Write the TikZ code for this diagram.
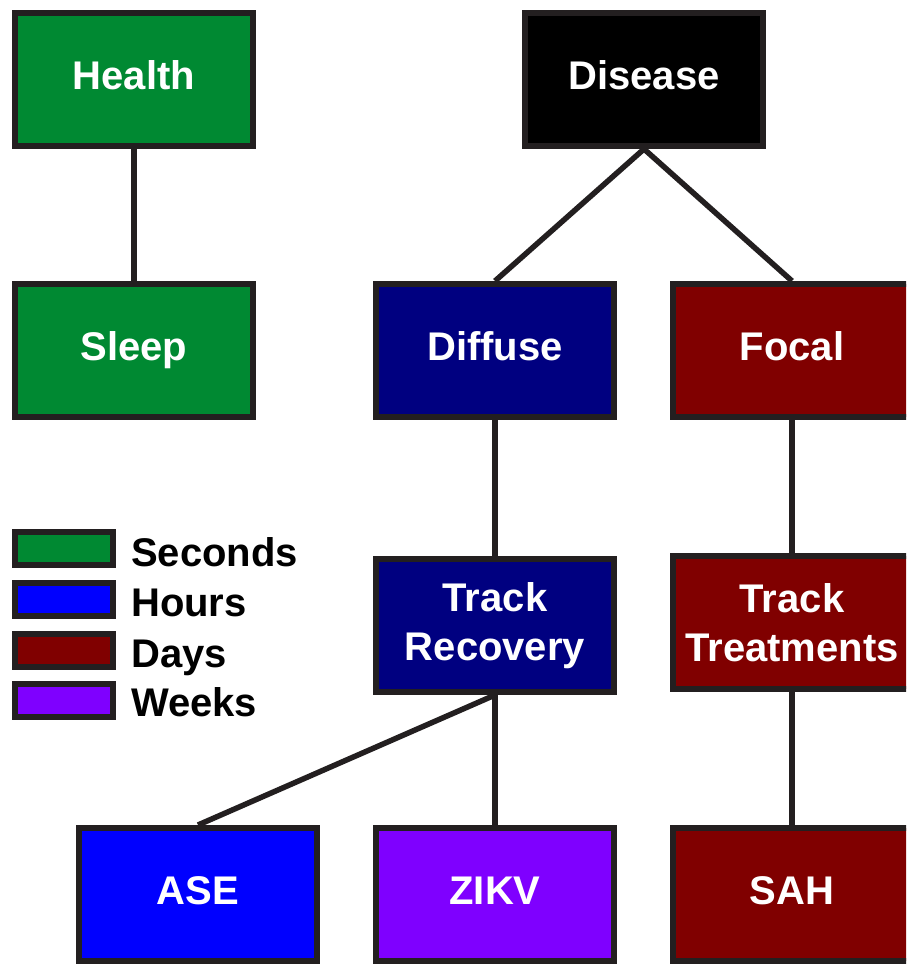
\documentclass[tikz,border=0pt]{standalone}
\usepackage{fontspec}
\setmainfont{Liberation Sans}
\definecolor{bord}{HTML}{231F20}
\definecolor{cgreen}{RGB}{0,137,50}
\definecolor{cnavy}{RGB}{0,0,128}
\definecolor{cred}{RGB}{128,0,0}
\definecolor{cblue}{RGB}{0,0,255}
\definecolor{cpurple}{RGB}{127,0,255}
\pgfdeclarelayer{back}
\pgfdeclarelayer{bg}
\pgfsetlayers{back,bg,main}
\begin{document}
\begin{tikzpicture}[x=1pt,y=-1pt,
  box/.style={draw=bord, line width=6pt, minimum width=238pt, minimum height=133pt,
    inner sep=0pt, text=white, font=\bfseries\fontsize{40}{49}\selectfont, align=center},
  one/.style={text height=29pt, text depth=9pt},
  conn/.style={draw=bord, line width=5.5pt},
  leg/.style={draw=bord, line width=6pt, minimum width=98pt, minimum height=33pt, inner sep=0pt},
  legtext/.style={anchor=base west, font=\bfseries\fontsize{40}{48}\selectfont, inner sep=0pt}]
\useasboundingbox (0,0) rectangle (906,966);
\clip (0,0) rectangle (906,966);
\begin{pgfonlayer}{back}
\fill[white] (0,0) rectangle (906,966);
\end{pgfonlayer}

\node[box,one,fill=cgreen] (health) at (134,79.5) {Health};
\node[box,one,fill=black] (disease) at (644,79.5) {Disease};
\node[box,one,fill=cgreen] (sleep) at (134,350.5) {Sleep};
\node[box,one,fill=cnavy] (diffuse) at (495,350.5) {Diffuse};
\node[box,one,fill=cred] (focal) at (792,350.5) {Focal};
\node[box,fill=cnavy] (rec) at (495,625.5) {Track\\Recovery};
\node[box,fill=cred] (treat) at (792,622.5) {Track\\Treatments};
\node[box,one,fill=cblue] (ase) at (198,894.5) {ASE};
\node[box,one,fill=cpurple] (zikv) at (495,894.5) {ZIKV};
\node[box,one,fill=cred] (sah) at (792,894.5) {SAH};

\begin{pgfonlayer}{bg}
\draw[conn] (health.south) -- (sleep.north);
\draw[conn] (disease.south) -- (diffuse.north);
\draw[conn] (disease.south) -- (focal.north);
\draw[conn] (diffuse.south) -- (rec.north);
\draw[conn] (focal.south) -- (treat.north);
\draw[conn] (rec.south) -- (ase.north);
\draw[conn] (rec.south) -- (zikv.north);
\draw[conn] (treat.south) -- (sah.north);
\end{pgfonlayer}

\node[leg,fill=cgreen] (l1) at (64,548.5) {};
\node[leg,fill=cblue] (l2) at (64,599) {};
\node[leg,fill=cred] (l3) at (64,650) {};
\node[leg,fill=cpurple] (l4) at (64,700.5) {};
\node[legtext] (t1) at (131,566) {Seconds};
\node[legtext] (t2) at (131,616) {Hours};
\node[legtext] (t3) at (131,667) {Days};
\node[legtext] (t4) at (131,716) {Weeks};
\end{tikzpicture}
\end{document}
